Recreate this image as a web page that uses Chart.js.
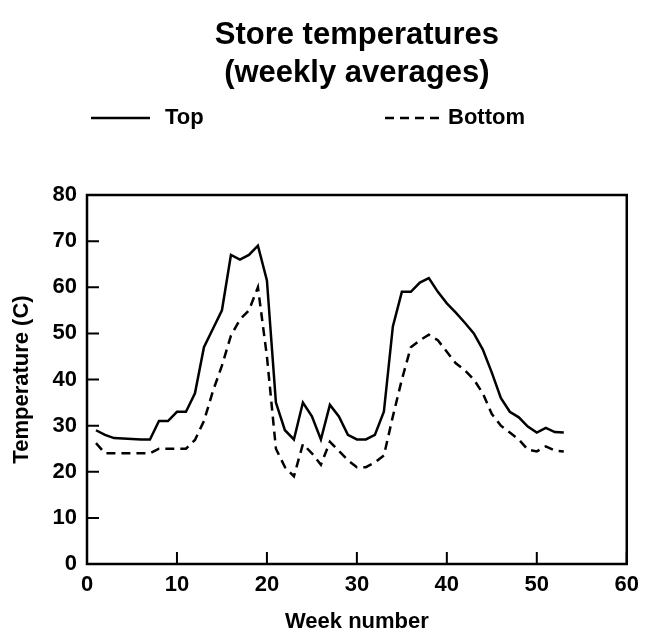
<!DOCTYPE html>
<html>
<head>
<meta charset="utf-8">
<script src="https://cdn.jsdelivr.net/npm/chart.js@4"></script>
<style>
  html, body { margin: 0; padding: 0; background: #fff; }
  #wrap { width: 647px; height: 642px; }
</style>
</head>
<body>
<div id="wrap"><canvas id="c" width="647" height="642"></canvas></div>
<script>
// ---- data ----
const titleLines = ['Store temperatures', '(weekly averages)'];
const seriesNames = ['Top', 'Bottom'];
const xAxisTitle = 'Week number';
const yAxisTitle = 'Temperature (C)';
const weeks = [1,2,3,4,5,6,7,8,9,10,11,12,13,14,15,16,17,18,19,20,21,22,23,24,25,26,27,28,29,30,31,32,33,34,35,36,37,38,39,40,41,42,43,44,45,46,47,48,49,50,51,52,53];
const topTemps = [29,28,27.3,27.2,27.1,27,27,31,31,33,33,37,47,51,55,67,66,67,69,61.5,35,29,27,35,32,27,34.5,32,28,27,27,28,33,51.5,59,59,61,62,59,56.5,54.5,52.3,50,46.5,41.5,36,33,31.8,29.8,28.5,29.5,28.6,28.5];
const bottomTemps = [26.2,24,24,24,24,24,24,25,25,25,25,26.9,31,37.5,43,49.5,53,55,60,45,25,21,19,26,24,21.5,26.5,24.5,22.5,21,21,22,23.5,32,40,47,48.5,49.7,48.5,46,43.5,42,40,37,32.5,30,28.5,27,24.8,24.4,25.5,24.6,24.4];
const xTicks = [0,10,20,30,40,50,60];
const yTicks = [0,10,20,30,40,50,60,70,80];

const FONT = "'Liberation Sans', Arial, sans-serif";
const INK = '#000';

const toPoints = (ys) => weeks.map((w, i) => ({ x: w, y: ys[i] }));

const frameAndDecor = {
  id: 'frameAndDecor',
  afterDraw(chart) {
    const { ctx, chartArea: a, scales } = chart;
    ctx.save();
    // frame
    ctx.strokeStyle = INK;
    ctx.lineWidth = 2.5;
    ctx.setLineDash([]);
    ctx.strokeRect(a.left, a.top, a.right - a.left, a.bottom - a.top);
    // inward ticks
    const tl = 12;
    ctx.lineWidth = 2;
    ctx.beginPath();
    scales.x.ticks.forEach((t, i) => {
      const px = scales.x.getPixelForTick(i);
      ctx.moveTo(px, a.bottom);
      ctx.lineTo(px, a.bottom - tl);
    });
    scales.y.ticks.forEach((t, i) => {
      const py = scales.y.getPixelForTick(i);
      ctx.moveTo(a.left, py);
      ctx.lineTo(a.left + tl, py);
    });
    ctx.stroke();

    // title
    const cx = (a.left + a.right) / 2;
    ctx.fillStyle = INK;
    ctx.textAlign = 'center';
    ctx.textBaseline = 'middle';
    ctx.font = 'bold 31px ' + FONT;
    ctx.fillText(titleLines[0], cx, 35);
    ctx.fillText(titleLines[1], cx, 73);

    // legend
    const ds = chart.data.datasets;
    const items = [
      { x0: 91, x1: 150, tx: 165 },
      { x0: 385, x1: 440, tx: 448 }
    ];
    const ly = 118;
    ctx.font = 'bold 22px ' + FONT;
    ctx.textAlign = 'left';
    items.forEach((it, i) => {
      ctx.beginPath();
      ctx.lineWidth = ds[i].borderWidth;
      ctx.strokeStyle = ds[i].borderColor;
      ctx.setLineDash(ds[i].borderDash || []);
      ctx.moveTo(it.x0, ly);
      ctx.lineTo(it.x1, ly);
      ctx.stroke();
      ctx.setLineDash([]);
      ctx.fillText(ds[i].label, it.tx, ly);
    });
    ctx.restore();
  }
};

new Chart(document.getElementById('c'), {
  type: 'line',
  data: {
    datasets: [
      {
        label: seriesNames[0],
        data: toPoints(topTemps),
        borderColor: INK,
        borderWidth: 2.5,
        pointRadius: 0,
        tension: 0,
        fill: false
      },
      {
        label: seriesNames[1],
        data: toPoints(bottomTemps),
        borderColor: INK,
        borderWidth: 2.5,
        borderDash: [9, 6],
        pointRadius: 0,
        tension: 0,
        fill: false
      }
    ]
  },
  options: {
    responsive: false,
    animation: false,
    devicePixelRatio: 1,
    layout: { padding: { top: 195, right: 13, left: 0, bottom: 0 } },
    plugins: {
      legend: { display: false },
      title: { display: false },
      tooltip: { enabled: false }
    },
    scales: {
      x: {
        type: 'linear',
        min: 0, max: 60,
        afterBuildTicks(scale) { scale.ticks = xTicks.map(v => ({ value: v })); },
        afterFit(scale) { scale.height = 78; },
        grid: { display: false, drawTicks: false },
        border: { display: false },
        ticks: {
          color: INK,
          padding: 8,
          font: { family: FONT, size: 22, weight: 'bold' }
        },
        title: {
          display: true,
          text: xAxisTitle,
          color: INK,
          padding: { top: 0, bottom: 7 },
          font: { family: FONT, size: 22, weight: 'bold' }
        }
      },
      y: {
        type: 'linear',
        min: 0, max: 80,
        afterBuildTicks(scale) { scale.ticks = yTicks.map(v => ({ value: v })); },
        afterFit(scale) { scale.width = 87; },
        grid: { display: false, drawTicks: false },
        border: { display: false },
        ticks: {
          color: INK,
          padding: 10,
          font: { family: FONT, size: 22, weight: 'bold' }
        },
        title: {
          display: true,
          text: yAxisTitle,
          color: INK,
          padding: { top: 9, bottom: 0 },
          font: { family: FONT, size: 22, weight: 'bold' }
        }
      }
    }
  },
  plugins: [frameAndDecor]
});
</script>
</body>
</html>
